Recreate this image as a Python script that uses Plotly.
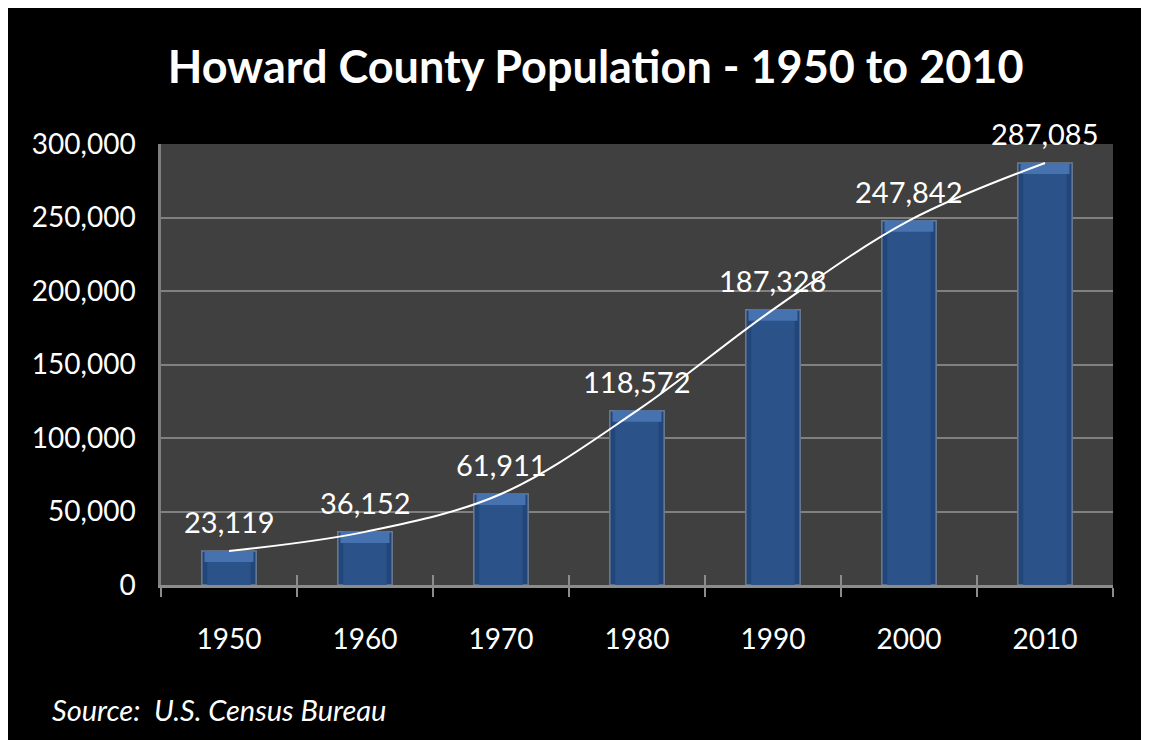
import plotly.graph_objects as go

# Howard County census counts
years = ["1950", "1960", "1970", "1980", "1990", "2000", "2010"]
population = [23119, 36152, 61911, 118572, 187328, 247842, 287085]
y_ticks = [0, 50000, 100000, 150000, 200000, 250000, 300000]
y_tick_labels = ["0", "50,000", "100,000", "150,000", "200,000", "250,000", "300,000"]

FONT = "Lato"
CAP = 7500  # height of the lighter bevel strip on top of each bar

fig = go.Figure()

# bar body with light outline
fig.add_trace(go.Bar(
    x=years, y=population, width=0.4,
    marker=dict(color="#22467a", line=dict(color="#6b7b92", width=1.5)),
    hoverinfo="skip", showlegend=False,
))
# inner face, slightly lighter so the edges look bevelled
fig.add_trace(go.Bar(
    x=years, y=population, width=0.32,
    marker=dict(color="#2b5289", line=dict(width=0)),
    hoverinfo="skip", showlegend=False,
))
# lighter cap on the top
fig.add_trace(go.Bar(
    x=years, y=[CAP] * len(years), base=[p - CAP for p in population], width=0.36,
    marker=dict(color="#4673b0", line=dict(width=0)),
    hoverinfo="skip", showlegend=False,
))
# smoothed trend line over the bar tops
fig.add_trace(go.Scatter(
    x=years, y=population, mode="lines",
    line=dict(color="white", width=2, shape="spline", smoothing=1.0),
    hoverinfo="skip", showlegend=False,
))
# helper trace so the crossing tick axis knows the categories
fig.add_trace(go.Scatter(
    x=years, y=[None] * len(years), xaxis="x2", mode="lines",
    hoverinfo="skip", showlegend=False,
))

# value labels (category index as x position)
for i, val in enumerate(population):
    fig.add_annotation(
        x=i, y=val, text=f"{val:,}", showarrow=False,
        yanchor="bottom", yshift=10,
        font=dict(family=FONT, size=29, color="white"),
    )

fig.add_annotation(
    xref="paper", yref="paper", x=-0.117, y=-0.283, xanchor="left", yanchor="middle",
    text="<i>Source:  U.S. Census Bureau</i>", showarrow=False,
    font=dict(family=FONT, size=29, color="white"),
)

fig.update_layout(
    width=1141, height=732,
    paper_bgcolor="black", plot_bgcolor="#404040",
    barmode="overlay",
    margin=dict(l=153, r=36, t=136, b=155),
    title=dict(
        text="<b>Howard County Population - 1950 to 2010</b>",
        x=0.515, xref="container", xanchor="center",
        y=0.919, yref="container", yanchor="middle",
        font=dict(family=FONT, size=45, color="white"),
    ),
    xaxis=dict(
        type="category", showgrid=False, showline=True, linecolor="#8c8c8c", linewidth=2.5,
        ticks="outside", tickson="boundaries", ticklen=9, tickwidth=2, tickcolor="#8c8c8c",
        tickfont=dict(family=FONT, size=28, color="white"), ticklabelstandoff=28,
        range=[-0.5, 6.5],
    ),
    xaxis2=dict(
        type="category", overlaying="x", matches="x", side="bottom",
        showgrid=False, showline=False, showticklabels=False,
        ticks="inside", tickson="boundaries", ticklen=10, tickwidth=2, tickcolor="#8c8c8c",
    ),
    yaxis=dict(
        range=[0, 300000], tickvals=y_ticks, ticktext=y_tick_labels,
        showgrid=True, gridcolor="#808080", gridwidth=2,
        showline=True, linecolor="#7f7f7f", linewidth=2.5, zeroline=False,
        ticks="", ticklabelstandoff=17,
        tickfont=dict(family=FONT, size=28, color="white"),
    ),
)

fig.write_html("out.html")
